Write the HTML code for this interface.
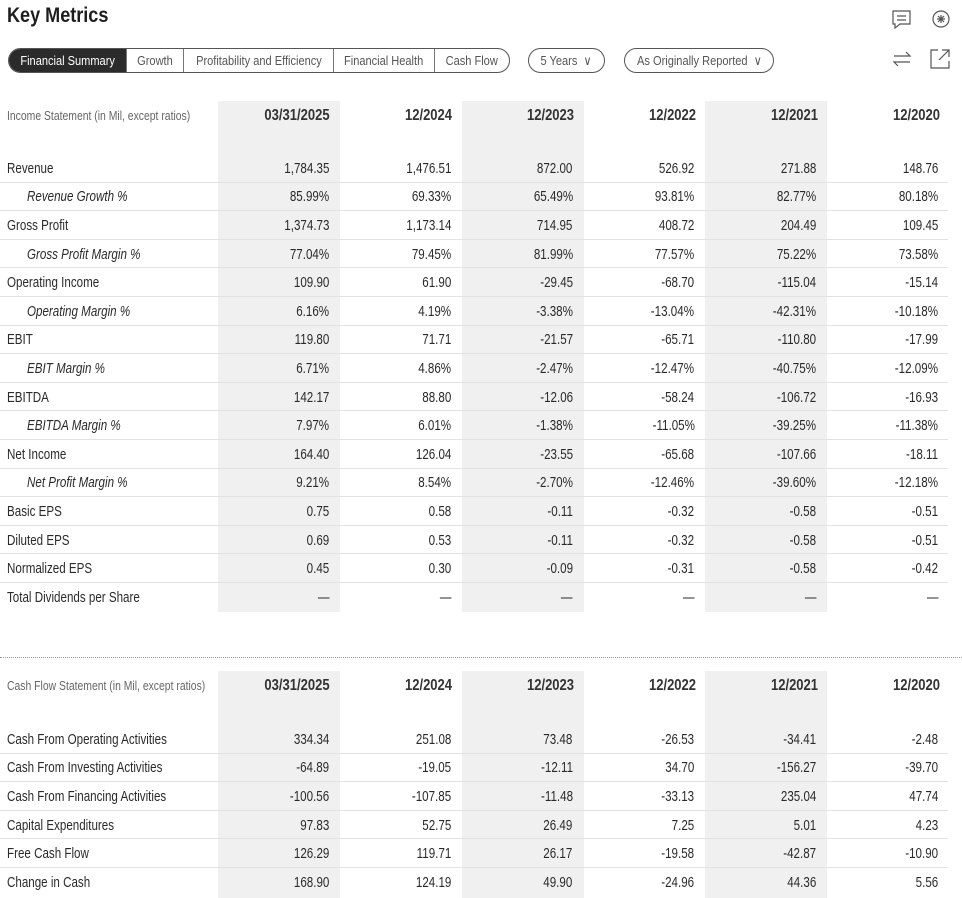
<!DOCTYPE html>
<html><head><meta charset="utf-8"><style>
*{margin:0;padding:0;box-sizing:border-box}
body{width:962px;height:898px;background:#fff;position:relative;overflow:hidden;font-family:"Liberation Sans",sans-serif;color:#1e1e1e}
.abs{position:absolute}
s{text-decoration:none;display:inline-block;white-space:nowrap;transform:scaleX(.8)}
.title{left:7px;top:4px;font-size:21px;font-weight:bold}
.title s{transform-origin:left;transform:scaleX(.86)}
.tabs{left:8px;top:48px;height:25px;width:502px;border:1px solid #555;border-radius:13px;display:flex;overflow:hidden;font-size:13px;color:#555}
.tabs s,.pill s{transform:scaleX(.85)}
.tabs div{height:100%;display:flex;align-items:center;justify-content:center;border-left:1px solid #777}
.tabs div:first-child{border-left:none;background:#2b2b2b;color:#fff}
.pill{top:48px;height:25px;border:1px solid #555;border-radius:13px;font-size:13px;color:#555;display:flex;align-items:center;justify-content:center}
.shade{background:#f0f0f0;width:122px}
.hdr{font-size:15.5px;font-weight:bold;color:#333;text-align:right;width:122px;padding-right:10px}
.hdr s{transform-origin:right;transform:scaleX(.84)}
.lbl{font-size:13px;color:#666;left:7px}
.lbl s{transform-origin:left}
.row{position:absolute;left:0;width:948px;height:28.6px;border-bottom:1px solid #e2e2e2;font-size:14.5px;display:flex;align-items:center;color:#2a2a2a;padding-top:2px}
.row .n{width:218px;padding-left:7px}
.row .n s{transform-origin:left}
.row .n.i{font-style:italic;padding-left:27px}
.row .v{width:122px;text-align:right;padding-right:10px}
.row .v s{transform-origin:right}
</style></head><body>
<div class="abs title"><s>Key Metrics</s></div>
<div class="abs tabs"><div style="width:117px"><s>Financial Summary</s></div><div style="width:58px"><s>Growth</s></div><div style="width:150px"><s>Profitability and Efficiency</s></div><div style="width:102px"><s>Financial Health</s></div><div style="width:75px"><s>Cash Flow</s></div></div>
<div class="abs pill" style="left:528px;width:77px"><s>5 Years&nbsp;&nbsp;∨</s></div>
<div class="abs pill" style="left:624px;width:150px"><s>As Originally Reported&nbsp;&nbsp;∨</s></div>
<svg class="abs" style="left:890px;top:8px" width="60" height="66" viewBox="0 0 60 66" fill="none" stroke="#555" stroke-width="1.2">
<path d="M3 3h17v13h-10l-5 4v-4h-2z"/><path d="M7 8h9M7 12h9"/>
<circle cx="51" cy="11" r="8"/><path d="M47 11h8M51 7v8M48 8l6 6M54 8l-6 6"/>
<path d="M4 48h16l-4-4M20 54h-16l4 4"/>
<path d="M48 42h-7v18h18v-7M52 42h7v7M59 42l-10 10"/>
</svg>
<div class="abs shade" style="left:218px;top:101px;height:511px"></div>
<div class="abs shade" style="left:462px;top:101px;height:511px"></div>
<div class="abs shade" style="left:705px;top:101px;height:511px"></div>
<div class="abs lbl" style="top:108px"><s>Income Statement (in Mil, except ratios)</s></div>
<div class="abs" style="left:218px;top:107px;display:flex"><div class="hdr"><s>03/31/2025</s></div><div class="hdr"><s>12/2024</s></div><div class="hdr"><s>12/2023</s></div><div class="hdr"><s>12/2022</s></div><div class="hdr"><s>12/2021</s></div><div class="hdr"><s>12/2020</s></div></div>
<div class="row" style="top:154px"><div class="n"><s>Revenue</s></div><div class="v"><s>1,784.35</s></div><div class="v"><s>1,476.51</s></div><div class="v"><s>872.00</s></div><div class="v"><s>526.92</s></div><div class="v"><s>271.88</s></div><div class="v"><s>148.76</s></div></div>
<div class="row" style="top:182.6px"><div class="n i"><s>Revenue Growth %</s></div><div class="v"><s>85.99%</s></div><div class="v"><s>69.33%</s></div><div class="v"><s>65.49%</s></div><div class="v"><s>93.81%</s></div><div class="v"><s>82.77%</s></div><div class="v"><s>80.18%</s></div></div>
<div class="row" style="top:211.2px"><div class="n"><s>Gross Profit</s></div><div class="v"><s>1,374.73</s></div><div class="v"><s>1,173.14</s></div><div class="v"><s>714.95</s></div><div class="v"><s>408.72</s></div><div class="v"><s>204.49</s></div><div class="v"><s>109.45</s></div></div>
<div class="row" style="top:239.8px"><div class="n i"><s>Gross Profit Margin %</s></div><div class="v"><s>77.04%</s></div><div class="v"><s>79.45%</s></div><div class="v"><s>81.99%</s></div><div class="v"><s>77.57%</s></div><div class="v"><s>75.22%</s></div><div class="v"><s>73.58%</s></div></div>
<div class="row" style="top:268.4px"><div class="n"><s>Operating Income</s></div><div class="v"><s>109.90</s></div><div class="v"><s>61.90</s></div><div class="v"><s>-29.45</s></div><div class="v"><s>-68.70</s></div><div class="v"><s>-115.04</s></div><div class="v"><s>-15.14</s></div></div>
<div class="row" style="top:297px"><div class="n i"><s>Operating Margin %</s></div><div class="v"><s>6.16%</s></div><div class="v"><s>4.19%</s></div><div class="v"><s>-3.38%</s></div><div class="v"><s>-13.04%</s></div><div class="v"><s>-42.31%</s></div><div class="v"><s>-10.18%</s></div></div>
<div class="row" style="top:325.6px"><div class="n"><s>EBIT</s></div><div class="v"><s>119.80</s></div><div class="v"><s>71.71</s></div><div class="v"><s>-21.57</s></div><div class="v"><s>-65.71</s></div><div class="v"><s>-110.80</s></div><div class="v"><s>-17.99</s></div></div>
<div class="row" style="top:354.2px"><div class="n i"><s>EBIT Margin %</s></div><div class="v"><s>6.71%</s></div><div class="v"><s>4.86%</s></div><div class="v"><s>-2.47%</s></div><div class="v"><s>-12.47%</s></div><div class="v"><s>-40.75%</s></div><div class="v"><s>-12.09%</s></div></div>
<div class="row" style="top:382.8px"><div class="n"><s>EBITDA</s></div><div class="v"><s>142.17</s></div><div class="v"><s>88.80</s></div><div class="v"><s>-12.06</s></div><div class="v"><s>-58.24</s></div><div class="v"><s>-106.72</s></div><div class="v"><s>-16.93</s></div></div>
<div class="row" style="top:411.4px"><div class="n i"><s>EBITDA Margin %</s></div><div class="v"><s>7.97%</s></div><div class="v"><s>6.01%</s></div><div class="v"><s>-1.38%</s></div><div class="v"><s>-11.05%</s></div><div class="v"><s>-39.25%</s></div><div class="v"><s>-11.38%</s></div></div>
<div class="row" style="top:440px"><div class="n"><s>Net Income</s></div><div class="v"><s>164.40</s></div><div class="v"><s>126.04</s></div><div class="v"><s>-23.55</s></div><div class="v"><s>-65.68</s></div><div class="v"><s>-107.66</s></div><div class="v"><s>-18.11</s></div></div>
<div class="row" style="top:468.6px"><div class="n i"><s>Net Profit Margin %</s></div><div class="v"><s>9.21%</s></div><div class="v"><s>8.54%</s></div><div class="v"><s>-2.70%</s></div><div class="v"><s>-12.46%</s></div><div class="v"><s>-39.60%</s></div><div class="v"><s>-12.18%</s></div></div>
<div class="row" style="top:497.2px"><div class="n"><s>Basic EPS</s></div><div class="v"><s>0.75</s></div><div class="v"><s>0.58</s></div><div class="v"><s>-0.11</s></div><div class="v"><s>-0.32</s></div><div class="v"><s>-0.58</s></div><div class="v"><s>-0.51</s></div></div>
<div class="row" style="top:525.8px"><div class="n"><s>Diluted EPS</s></div><div class="v"><s>0.69</s></div><div class="v"><s>0.53</s></div><div class="v"><s>-0.11</s></div><div class="v"><s>-0.32</s></div><div class="v"><s>-0.58</s></div><div class="v"><s>-0.51</s></div></div>
<div class="row" style="top:554.4px"><div class="n"><s>Normalized EPS</s></div><div class="v"><s>0.45</s></div><div class="v"><s>0.30</s></div><div class="v"><s>-0.09</s></div><div class="v"><s>-0.31</s></div><div class="v"><s>-0.58</s></div><div class="v"><s>-0.42</s></div></div>
<div class="row" style="top:583px;border-bottom:none"><div class="n"><s>Total Dividends per Share</s></div><div class="v"><s>—</s></div><div class="v"><s>—</s></div><div class="v"><s>—</s></div><div class="v"><s>—</s></div><div class="v"><s>—</s></div><div class="v"><s>—</s></div></div>
<div class="abs" style="left:0;top:657px;width:962px;border-top:1px dotted #999"></div>
<div class="abs shade" style="left:218px;top:671px;height:227px"></div>
<div class="abs shade" style="left:462px;top:671px;height:227px"></div>
<div class="abs shade" style="left:705px;top:671px;height:227px"></div>
<div class="abs lbl" style="top:678px"><s>Cash Flow Statement (in Mil, except ratios)</s></div>
<div class="abs" style="left:218px;top:677px;display:flex"><div class="hdr"><s>03/31/2025</s></div><div class="hdr"><s>12/2024</s></div><div class="hdr"><s>12/2023</s></div><div class="hdr"><s>12/2022</s></div><div class="hdr"><s>12/2021</s></div><div class="hdr"><s>12/2020</s></div></div>
<div class="row" style="top:725px"><div class="n"><s>Cash From Operating Activities</s></div><div class="v"><s>334.34</s></div><div class="v"><s>251.08</s></div><div class="v"><s>73.48</s></div><div class="v"><s>-26.53</s></div><div class="v"><s>-34.41</s></div><div class="v"><s>-2.48</s></div></div>
<div class="row" style="top:753.6px"><div class="n"><s>Cash From Investing Activities</s></div><div class="v"><s>-64.89</s></div><div class="v"><s>-19.05</s></div><div class="v"><s>-12.11</s></div><div class="v"><s>34.70</s></div><div class="v"><s>-156.27</s></div><div class="v"><s>-39.70</s></div></div>
<div class="row" style="top:782.2px"><div class="n"><s>Cash From Financing Activities</s></div><div class="v"><s>-100.56</s></div><div class="v"><s>-107.85</s></div><div class="v"><s>-11.48</s></div><div class="v"><s>-33.13</s></div><div class="v"><s>235.04</s></div><div class="v"><s>47.74</s></div></div>
<div class="row" style="top:810.8px"><div class="n"><s>Capital Expenditures</s></div><div class="v"><s>97.83</s></div><div class="v"><s>52.75</s></div><div class="v"><s>26.49</s></div><div class="v"><s>7.25</s></div><div class="v"><s>5.01</s></div><div class="v"><s>4.23</s></div></div>
<div class="row" style="top:839.4px"><div class="n"><s>Free Cash Flow</s></div><div class="v"><s>126.29</s></div><div class="v"><s>119.71</s></div><div class="v"><s>26.17</s></div><div class="v"><s>-19.58</s></div><div class="v"><s>-42.87</s></div><div class="v"><s>-10.90</s></div></div>
<div class="row" style="top:868px;border-bottom:none"><div class="n"><s>Change in Cash</s></div><div class="v"><s>168.90</s></div><div class="v"><s>124.19</s></div><div class="v"><s>49.90</s></div><div class="v"><s>-24.96</s></div><div class="v"><s>44.36</s></div><div class="v"><s>5.56</s></div></div>
</body></html>
